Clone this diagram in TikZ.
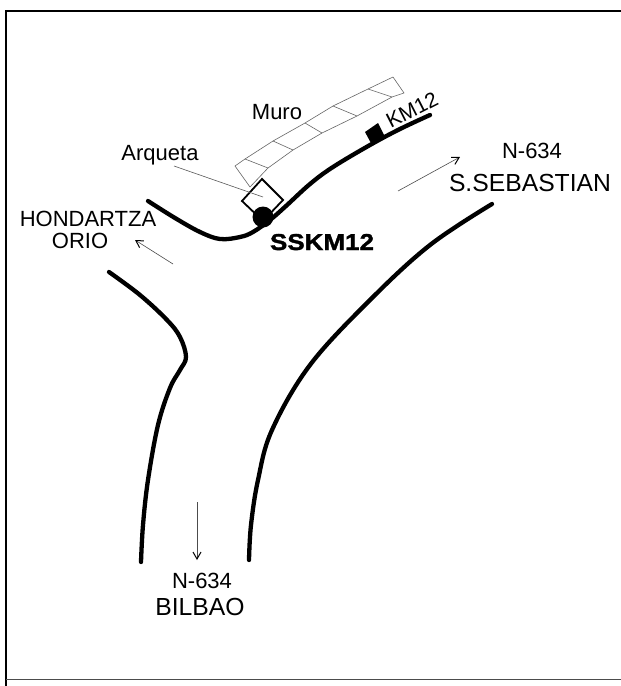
\documentclass[tikz,border=0pt]{standalone}
\usepackage{fontspec}
\setmainfont{Liberation Sans}
\newfontfamily\heavyf[FakeBold=1.5,FakeStretch=1.13]{Liberation Sans Bold}
\usetikzlibrary{arrows.meta}
\tikzset{
 road/.style={line width=4.3pt,line cap=round,line join=round,black},
 thin line/.style={line width=0.6pt,draw=black!65},
 wall/.style={line width=0.6pt,draw=black!60,line join=round},
 dirarrow/.style={line width=0.6pt,draw=black!70,-{Straight Barb[length=7pt,width=8pt,line width=1pt,black]}},
 lab/.style={inner sep=0pt,font=\fontsize{22}{24}\selectfont,text=black},
 bigl/.style={inner sep=0pt,font=\fontsize{24.7}{27}\selectfont,text=black}
}
\begin{document}
\begin{tikzpicture}[x=1pt,y=-1pt]
\useasboundingbox (0,0) rectangle (621,686);
\fill[white] (0,0) rectangle (621,686);
% frame
\draw[line width=2.4pt,black] (621,11) -- (6,11) -- (6,686);
\draw[line width=1pt,black!70] (6,679.5) -- (621,679.5);
% wall
\draw[wall] (235,166) -- (245,159) -- (273,141) -- (305,123) -- (333,106) -- (368,89) -- (393,77) -- (404,93) -- (392,97) -- (357,116) -- (322,133) -- (293,150) -- (268,168) -- (250,187) -- cycle;
\draw[wall] (245,159) -- (268,168) (273,141) -- (293,150) (305,123) -- (322,133) (333,106) -- (357,116) (368,89) -- (392,97);
% arqueta
\draw[line width=1.8pt,black,fill=white,line join=miter] (262,179) -- (283,200) -- (263,221) -- (242,201) -- cycle;
\draw[thin line] (174,166) -- (263,197);
% roads
\draw[road] plot[smooth,tension=.6] coordinates {(148,201) (175,218) (200,232) (220,239) (240,237) (253,232) (270,220) (286,206) (310,184) (333,167) (370,145) (400,129) (430,115)};
\draw[road] plot[smooth,tension=.6] coordinates {(109,272) (140,295) (167,320) (180,337) (186,357) (180,370) (170,388) (158,425) (148,480) (143,525) (141,562)};
\draw[road] plot[smooth,tension=.6] coordinates {(492,204) (430,245) (370,300) (310,365) (272,430) (258,480) (251,525) (249,560)};
\node[circle,fill=black,inner sep=0pt,minimum size=21pt] (pt) at (263,217) {};
% km12 square
\fill[black] (365,132) -- (378,123) -- (385,137) -- (372,145) -- cycle;
% arrows
\coordinate (a1s) at (398,191); \coordinate (a1e) at (460,157);
\coordinate (a2s) at (173,264); \coordinate (a2e) at (135,240);
\coordinate (a3s) at (197,502); \coordinate (a3e) at (197,560);
\draw[dirarrow] (a1s) -- (a1e);
\draw[dirarrow] (a2s) -- (a2e);
\draw[dirarrow] (a3s) -- (a3e);
% labels
\node[lab] (muro) at (277,112) {Muro};
\node[lab,anchor=base] (arq) at (160,160) {Arqueta};
\node[lab,rotate=27,font=\fontsize{21}{23}\selectfont] (km) at (412,110) {KM12};
\node[inner sep=0pt,font=\fontsize{23}{25}\heavyf,text=black,anchor=base] (ss) at (322,250) {SSKM12};
\node[lab,anchor=base] (n1) at (532,158) {N-634};
\node[bigl,anchor=base] (ssb) at (530,191) {S.SEBASTIAN};
\node[lab,anchor=base] (h) at (88,226) {HONDARTZA};
\node[lab,anchor=base] (o) at (80,248) {ORIO};
\node[lab,anchor=base] (n2) at (202,588) {N-634};
\node[bigl,anchor=base] (b) at (200,615) {BILBAO};
\end{tikzpicture}
\end{document}
